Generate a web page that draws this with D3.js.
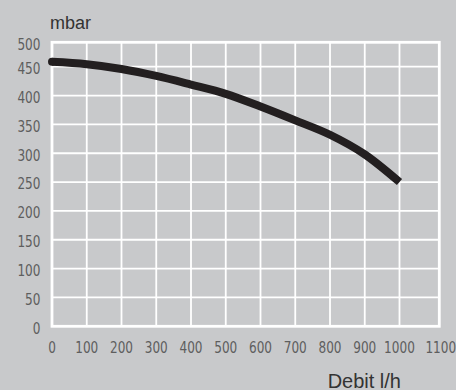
<!DOCTYPE html>
<html><head><meta charset="utf-8">
<script src="https://cdn.jsdelivr.net/npm/d3@7/dist/d3.min.js"></script>
<style>
html,body{margin:0;padding:0;background:#c8c9cb;}
svg{display:block;}
</style></head>
<body>
<script>
const flow = [0, 100, 200, 300, 400, 500, 600, 700, 800, 900, 1000];
const pressure = [460, 455, 446, 434, 419, 403, 381, 357, 332, 298, 250];
const xTicks = [0, 100, 200, 300, 400, 500, 600, 700, 800, 900, 1000, 1100];
const yTicks = [0, 50, 100, 150, 200, 250, 300, 350, 400, 450, 500];
const yLabel = "mbar";
const xLabel = "Debit l/h";

const W = 456, H = 390;
const svg = d3.select("body").append("svg").attr("width", W).attr("height", H);
svg.append("rect").attr("width", W).attr("height", H).attr("fill", "#c8c9cb");

const x = d3.scaleLinear().domain([0, 1000, 1100]).range([52, 399.5, 439.3]);
const y = d3.scaleLinear().domain([0, 450, 500]).range([326.3, 66.7, 42.3]);

// grid
const g = svg.append("g");
g.selectAll(".vg").data(xTicks.filter(d => d > 0 && d < 1100)).enter().append("line")
  .attr("x1", d => x(d)).attr("x2", d => x(d)).attr("y1", y(500)).attr("y2", y(0))
  .attr("stroke", "#fff").attr("stroke-width", 1.8);
g.selectAll(".hg").data(yTicks.filter(d => d > 0 && d < 500)).enter().append("line")
  .attr("y1", d => y(d)).attr("y2", d => y(d)).attr("x1", x(0)).attr("x2", x(1100))
  .attr("stroke", "#fff").attr("stroke-width", 1.8);
// frame
g.append("rect").attr("x", x(0)).attr("y", y(500))
  .attr("width", x(1100) - x(0)).attr("height", y(0) - y(500))
  .attr("fill", "none").attr("stroke", "#fff").attr("stroke-width", 2.8);

// axis labels
const font = "'Liberation Sans Narrow','DejaVu Sans Condensed',sans-serif";
const sx = 0.84;
svg.append("g").selectAll("text").data(yTicks).enter().append("text")
  .attr("transform", d => `translate(40.5,${y(d) + 1.5}) scale(${sx},1)`)
  .attr("dy", "0.36em")
  .attr("text-anchor", "end").attr("font-family", font).attr("font-size", 16)
  .attr("fill", "#5e5e5e").text(d => d);
svg.append("g").selectAll("text").data(xTicks).enter().append("text")
  .attr("transform", d => `translate(${x(d) + (d === 1100 ? 1.5 : 0)},353.3) scale(${sx},1)`)
  .attr("text-anchor", "middle").attr("font-family", font).attr("font-size", 16)
  .attr("fill", "#5e5e5e").text(d => d);

svg.append("text").attr("x", 50).attr("y", 29.3)
  .attr("font-family", "'Liberation Sans',sans-serif").attr("font-size", 18)
  .attr("fill", "#333").text(yLabel);
svg.append("text").attr("x", 401).attr("y", 387.5).attr("text-anchor", "end")
  .attr("font-family", "'Liberation Sans',sans-serif").attr("font-size", 20)
  .attr("fill", "#333").text(xLabel);

// curve
const data = flow.map((f, i) => ({f, p: pressure[i]}));
const line = d3.line().x(d => x(d.f)).y(d => y(d.p)).curve(d3.curveMonotoneX);
svg.append("path").datum(data).attr("d", line)
  .attr("fill", "none").attr("stroke", "#231f20").attr("stroke-width", 8)
  .attr("stroke-linecap", "butt").attr("stroke-linejoin", "round");
svg.append("circle").attr("cx", x(data[0].f)).attr("cy", y(data[0].p)).attr("r", 4)
  .attr("fill", "#231f20");
</script>
</body></html>
